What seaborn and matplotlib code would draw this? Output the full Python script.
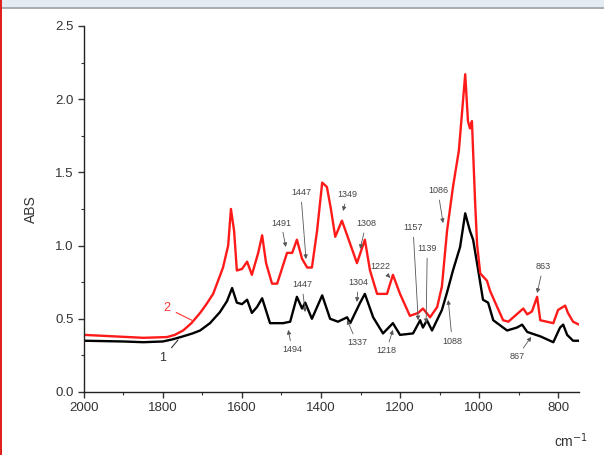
import pandas as pd
import matplotlib.pyplot as plt
import seaborn as sns
from matplotlib.patches import Rectangle
from matplotlib.ticker import MultipleLocator

# spectrum 1 (black)
wn_1 = [2000, 1901, 1850, 1800, 1775, 1749, 1725, 1706, 1681, 1656, 1638, 1625, 1613, 1600,
        1587, 1575, 1562, 1549, 1529, 1496, 1478, 1461, 1448, 1440, 1423, 1397, 1377, 1357,
        1334, 1326, 1301, 1289, 1268, 1243, 1218, 1200, 1167, 1149, 1142, 1132, 1119, 1094,
        1081, 1066, 1048, 1035, 1023, 1015, 1002, 990, 977, 964, 929, 904, 891, 878, 845,
        812, 795, 787, 777, 762, 747]
abs_1 = [0.35, 0.345, 0.34, 0.345, 0.36, 0.38, 0.40, 0.42, 0.47, 0.545, 0.62, 0.71, 0.61, 0.60,
         0.63, 0.54, 0.58, 0.64, 0.47, 0.47, 0.48, 0.65, 0.57, 0.61, 0.50, 0.66, 0.50, 0.48,
         0.51, 0.47, 0.61, 0.67, 0.51, 0.40, 0.47, 0.39, 0.40, 0.49, 0.44, 0.49, 0.42, 0.56,
         0.68, 0.83, 0.99, 1.22, 1.10, 1.04, 0.83, 0.63, 0.61, 0.49, 0.42, 0.44, 0.46, 0.41,
         0.38, 0.34, 0.44, 0.46, 0.39, 0.35, 0.35]

# spectrum 2 (red)
wn_2 = [2000, 1850, 1790, 1770, 1749, 1728, 1706, 1690, 1673, 1648, 1635, 1628, 1620, 1613,
        1600, 1587, 1575, 1559, 1549, 1539, 1524, 1511, 1486, 1473, 1461, 1448, 1435, 1423,
        1410, 1397, 1385, 1375, 1364, 1347, 1326, 1309, 1289, 1276, 1258, 1233, 1218, 1200,
        1175, 1154, 1142, 1124, 1106, 1094, 1081, 1066, 1051, 1035, 1028, 1023, 1018, 1010,
        1005, 997, 980, 972, 954, 939, 926, 909, 888, 878, 866, 853, 845, 812, 800, 782, 775,
        762, 747]
abs_2 = [0.39, 0.37, 0.375, 0.39, 0.42, 0.47, 0.54, 0.60, 0.67, 0.85, 1.0, 1.25, 1.1, 0.83,
         0.84, 0.89, 0.80, 0.95, 1.07, 0.88, 0.74, 0.74, 0.95, 0.95, 1.04, 0.91, 0.85, 0.85,
         1.1, 1.43, 1.40, 1.25, 1.06, 1.17, 1.01, 0.88, 1.04, 0.83, 0.67, 0.67, 0.80, 0.67,
         0.52, 0.54, 0.57, 0.51, 0.58, 0.72, 1.1, 1.4, 1.65, 2.17, 1.85, 1.80, 1.85, 1.3,
         1.01, 0.81, 0.76, 0.69, 0.58, 0.49, 0.48, 0.52, 0.57, 0.53, 0.55, 0.65, 0.49, 0.47,
         0.56, 0.59, 0.54, 0.48, 0.46]

# peak labels: text, arrow target, text position
peak_labels = ['1491', '1447', '1349', '1308', '1086', '1157', '1139', '1222',
               '1447', '1494', '1304', '1337', '1218', '1088', '863', '867']
peak_xy = [(1489, 0.99), (1438, 0.908), (1344, 1.236), (1301, 0.977), (1091, 1.154),
           (1154, 0.49), (1134, 0.47), (1225, 0.779), (1440, 0.546), (1483, 0.424),
           (1309, 0.615), (1334, 0.492), (1218, 0.424), (1078, 0.628), (853, 0.676),
           (868, 0.376)]
peak_text = [(1501, 1.154), (1451, 1.359), (1334, 1.346), (1286, 1.148), (1104, 1.373),
             (1167, 1.12), (1131, 0.977), (1250, 0.854), (1448, 0.731), (1473, 0.287),
             (1306, 0.745), (1309, 0.335), (1235, 0.28), (1068, 0.348), (838, 0.854),
             (904, 0.239)]

df1 = pd.DataFrame({'wn': wn_1, 'abs': abs_1})
df2 = pd.DataFrame({'wn': wn_2, 'abs': abs_2})

sns.set_theme(style="ticks")
plt.rcParams['font.family'] = ['Liberation Sans', 'DejaVu Sans']

fig = plt.figure(figsize=(6.04, 4.55), dpi=100)
ax = fig.add_axes([0.139, 0.1385, 0.8196, 0.8045])

sns.lineplot(x='wn', y='abs', data=df1, color='black', linewidth=1.7, ax=ax)
sns.lineplot(x='wn', y='abs', data=df2, color='#ff1a1a', linewidth=1.7, ax=ax)

ax.set_xlim(2000, 747)
ax.set_ylim(0, 2.5)
ax.xaxis.set_major_locator(MultipleLocator(200))
ax.xaxis.set_minor_locator(MultipleLocator(100))
ax.yaxis.set_major_locator(MultipleLocator(0.5))
ax.yaxis.set_minor_locator(MultipleLocator(0.25))
ax.yaxis.set_major_formatter(plt.FormatStrFormatter('%.1f'))
ax.tick_params(which='major', length=4, width=1, labelsize=9.5, colors='#333333')
ax.tick_params(which='minor', length=2, width=0.8, colors='#333333')
ax.set_xlabel('')
ax.set_ylabel('ABS', fontsize=10, color='#333333', labelpad=12)
sns.despine(ax=ax)
for s in ['left', 'bottom']:
    ax.spines[s].set_color('#222222')
    ax.spines[s].set_linewidth(1.0)

fig.text(0.945, 0.018, 'cm$^{-1}$', fontsize=10, color='#333333', ha='center')

for lab, xy, txt in zip(peak_labels, peak_xy, peak_text):
    ax.annotate(lab, xy=xy, xytext=txt, fontsize=6.5, color='#444444',
                ha='center', va='center',
                arrowprops=dict(arrowstyle='-|>', color='#555555', lw=0.6,
                                mutation_scale=6, shrinkA=1, shrinkB=0))

ax.annotate('2', xy=(1727, 0.49), xytext=(1790, 0.574), fontsize=9, color='#ff3333',
            ha='center', va='center',
            arrowprops=dict(arrowstyle='-', color='#ff3333', lw=0.8, shrinkA=2, shrinkB=0))
ax.annotate('1', xy=(1762, 0.355), xytext=(1800, 0.232), fontsize=9, color='#333333',
            ha='center', va='center',
            arrowprops=dict(arrowstyle='-', color='#333333', lw=0.8, shrinkA=2, shrinkB=0))

# page frame pieces around the chart
fig.add_artist(Rectangle((0, 1 - 7 / 455), 1, 7 / 455, transform=fig.transFigure,
                         color='#e5ebf3', lw=0))
fig.add_artist(Rectangle((0, 1 - 9 / 455), 1, 2 / 455, transform=fig.transFigure,
                         color='#a9adb2', lw=0))
fig.add_artist(Rectangle((0, 0), 2 / 604, 1, transform=fig.transFigure,
                         color='#e0201a', lw=0))

fig.savefig('out.png', dpi=100)
